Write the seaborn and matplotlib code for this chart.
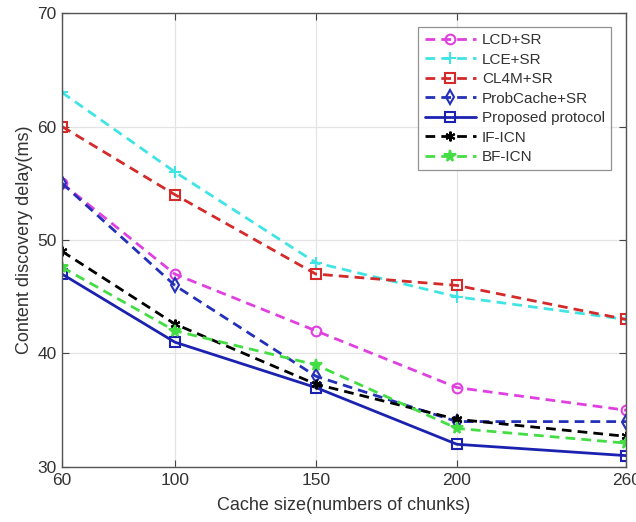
import matplotlib
matplotlib.use("Agg")
import matplotlib.pyplot as plt
import seaborn as sns
import pandas as pd

cache_sizes = [60, 100, 150, 200, 260]
lcd_sr = [55, 47, 42, 37, 35]
lce_sr = [63, 56, 48, 45, 43]
cl4m_sr = [60, 54, 47, 46, 43]
probcache_sr = [55, 46, 38, 34, 34]
proposed = [47, 41, 37, 32, 31]
if_icn = [49, 42.6, 37.3, 34.2, 32.7]
bf_icn = [47.6, 42, 39, 33.4, 32.1]

series_names = ["LCD+SR", "LCE+SR", "CL4M+SR", "ProbCache+SR",
                "Proposed protocol", "IF-ICN", "BF-ICN"]
series_values = [lcd_sr, lce_sr, cl4m_sr, probcache_sr, proposed, if_icn, bf_icn]

x_ticks = [60, 100, 150, 200, 260]
y_ticks = [30, 40, 50, 60, 70]

sns.set_theme(style="white")
plt.rcParams['font.family'] = ['Liberation Sans', 'DejaVu Sans']

styles = {
    "LCD+SR": dict(color="#e040e0", marker="o", ls="--", mfc="none", ms=7),
    "LCE+SR": dict(color="#40e4e4", marker="+", ls="--", mfc="none", ms=8),
    "CL4M+SR": dict(color="#d42a2a", marker="s", ls="--", mfc="none", ms=6.5),
    "ProbCache+SR": dict(color="#2430b8", marker="d", ls="--", mfc="none", ms=7.5),
    "Proposed protocol": dict(color="#1c22b0", marker="s", ls="-", mfc="none", ms=6.5),
    "IF-ICN": dict(color="black", marker=(6, 2, 0), ls="--", mfc="black", ms=7),
    "BF-ICN": dict(color="#44dd44", marker="*", ls="--", mfc="#44dd44", ms=8.5),
}

fig = plt.figure(figsize=(6.36, 5.22), dpi=100)
ax = fig.add_axes([0.0975, 0.1054, 0.887, 0.8696])

for name, vals in zip(series_names, series_values):
    df = pd.DataFrame({"x": cache_sizes, "y": vals})
    st = styles[name]
    kw = dict(color=st["color"], marker=st["marker"], markersize=st["ms"],
              markerfacecolor=st["mfc"], markeredgecolor=st["color"],
              markeredgewidth=1.5, linewidth=2, label=name)
    if st["ls"] == "--":
        kw["dashes"] = (3.5, 2.2)
    sns.lineplot(data=df, x="x", y="y", ax=ax, **kw)

ax.set_xlim(60, 260)
ax.set_ylim(30, 70)
ax.set_xticks(x_ticks)
ax.set_yticks(y_ticks)
ax.grid(True, color="#e4e4e4", linewidth=0.9)
for s in ax.spines.values():
    s.set_color("#555555")
    s.set_linewidth(1.0)
ax.tick_params(axis="both", direction="in", length=5, width=0.8, color="#444444",
               labelsize=12.5, labelcolor="#333333", top=True, right=True,
               bottom=True, left=True, pad=4)
ax.set_xlabel("Cache size(numbers of chunks)", fontsize=13, color="#333333", labelpad=7)
ax.set_ylabel("Content discovery delay(ms)", fontsize=13, color="#333333", labelpad=3)

leg = ax.legend(loc="upper right", bbox_to_anchor=(0.973, 0.969), borderaxespad=0,
                fontsize=11, frameon=True, fancybox=False, edgecolor="#777777",
                handlelength=3.4, labelspacing=0.36, borderpad=0.4, handletextpad=0.35)
leg.get_frame().set_linewidth(0.9)
for t in leg.get_texts():
    t.set_color("#333333")

fig.savefig("out.png", dpi=100)
